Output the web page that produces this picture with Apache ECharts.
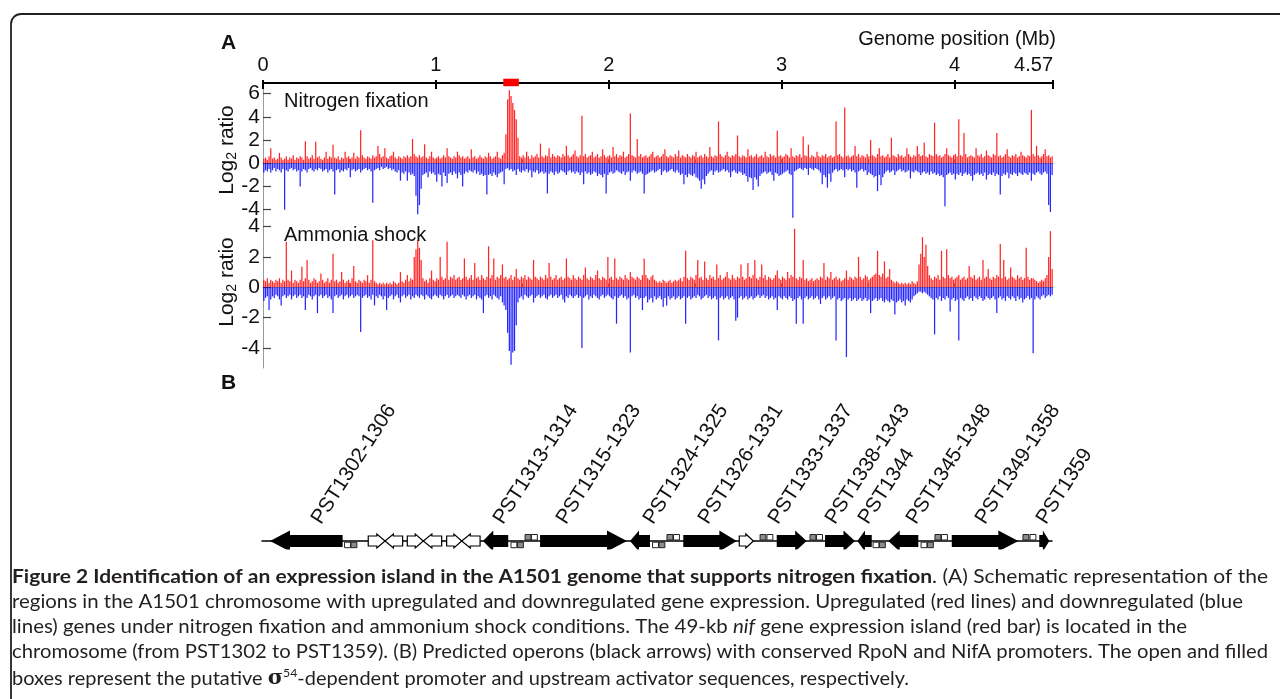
<!DOCTYPE html>
<html><head><meta charset="utf-8">
<script src="https://cdn.jsdelivr.net/npm/echarts@6.0.0/dist/echarts.min.js"></script>
<style>html,body{margin:0;padding:0;background:#fff}#c{width:1280px;height:699px}</style>
</head><body><div id="c"></div><script>
// ---------- DATA ----------
const BIN = 0.01; // Mb per bin
const genomeTicks = [0, 1, 2, 3, 4, 4.57];
const halfTicks = [0.5, 1, 1.5, 2, 2.5, 3, 3.5, 4, 4.5];
const nfTicks = [-4, -2, 0, 2, 4, 6];
const amTicks = [-4, -2, 0, 2, 4];
const island = [[1.39, 1.48]];

const nfUp = [
0.4,0.5,0.3,0.6,1.3,0.4,0.5,0.3,0.4,0.9,0.5,0.3,0.4,0.6,0.3,0.5,0.4,0.7,0.3,0.5,
0.4,0.6,0.5,0.3,1.9,0.6,0.4,0.5,0.7,0.4,1.85,0.5,0.6,0.4,0.3,0.5,1.0,0.4,0.6,0.5,
1.6,0.5,0.4,0.6,0.3,0.5,0.4,1.0,0.5,0.6,0.4,0.5,0.9,0.4,0.6,0.5,2.85,0.7,0.5,0.4,
0.6,0.5,0.4,0.7,0.5,0.6,1.5,0.8,0.5,0.6,1.3,0.5,0.4,0.6,0.7,1.0,0.5,0.4,0.6,0.5,
0.4,0.6,0.5,0.7,0.5,0.6,2.1,0.8,0.6,0.5,0.7,0.5,0.6,1.65,0.5,0.4,0.6,1.0,0.5,0.4,
0.5,0.6,0.4,0.5,0.7,0.5,1.3,0.6,0.5,0.4,0.6,0.5,1.0,0.7,0.5,0.6,0.4,0.5,0.6,0.4,
1.2,0.5,0.6,0.4,0.5,0.7,0.5,0.4,0.6,0.5,0.9,0.6,0.4,0.5,0.6,1.0,0.5,0.4,0.7,0.9,
2.5,5.5,6.3,5.8,5.2,4.6,3.8,2.2,0.6,0.5,0.7,0.5,1.0,0.6,0.4,0.7,0.5,0.6,0.8,0.5,
1.7,0.6,0.5,0.7,0.6,1.3,0.5,0.8,0.6,0.5,0.7,0.6,0.5,0.8,0.6,1.5,0.7,0.5,0.6,0.8,
1.1,0.6,0.5,0.7,4.1,0.6,0.8,0.5,0.6,0.7,1.0,0.5,0.6,0.8,0.5,0.6,1.2,0.7,0.5,0.6,
0.7,0.5,1.4,0.6,0.8,0.5,0.7,0.6,1.0,0.5,0.6,0.8,4.3,0.7,0.6,0.5,2.1,0.6,0.8,0.5,
0.6,0.7,0.5,0.6,0.8,1.0,0.5,0.6,0.7,0.5,0.6,0.8,1.2,0.6,0.5,0.7,0.6,0.5,0.8,0.6,
1.1,0.5,0.7,0.6,0.5,0.8,0.6,0.5,0.7,0.6,1.0,0.5,0.6,0.7,0.5,0.8,0.6,0.5,1.4,0.6,
0.5,0.7,0.6,3.6,0.8,0.6,0.5,0.7,1.0,0.6,0.5,0.7,0.6,0.8,2.4,0.6,0.5,0.7,0.6,0.5,
1.2,0.6,0.7,0.5,0.6,0.8,0.5,0.6,0.7,0.5,1.0,0.6,0.5,0.8,0.6,0.7,0.5,2.8,0.6,0.7,
0.5,0.6,0.8,0.7,0.5,1.3,0.6,0.5,0.7,0.6,0.8,0.5,2.3,0.7,0.6,1.6,0.5,0.7,0.6,0.5,
1.0,0.6,0.5,0.7,0.6,0.8,0.5,0.6,0.7,0.5,0.6,3.6,0.7,0.8,0.6,0.5,4.8,0.6,0.7,0.5,
0.6,0.7,1.5,0.6,0.8,0.5,0.7,0.6,0.5,0.8,0.6,2.0,0.7,0.6,0.5,0.8,1.3,0.6,0.7,0.5,
0.6,0.8,0.5,2.2,0.7,0.6,0.5,0.8,0.6,0.7,0.5,0.6,1.3,0.8,0.6,0.5,0.7,0.6,1.5,0.8,
0.6,0.7,1.8,0.6,0.5,0.8,0.7,0.6,3.5,0.8,0.6,0.7,0.5,0.6,0.8,1.3,0.7,0.6,0.5,0.7,
0.8,0.6,3.8,0.7,0.6,2.6,0.8,0.5,0.6,0.7,0.6,0.5,1.3,0.7,0.6,0.8,0.5,0.6,1.1,0.7,
0.6,0.5,0.8,0.7,2.6,0.6,0.7,0.5,0.6,0.8,1.2,0.6,0.5,0.7,0.6,0.8,0.5,0.6,1.0,0.7,
0.6,0.5,0.7,0.6,4.6,0.8,0.6,1.5,0.7,0.5,0.6,0.8,1.2,0.6,0.7,0.5,0.6];

const nfDown = [
-0.8,-0.6,-0.7,-0.5,-0.8,-0.6,-0.4,-0.7,-0.5,-0.6,-0.8,-0.5,-4.0,-0.6,-0.7,-0.5,-0.4,-0.6,-0.5,-0.7,
-0.6,-2.0,-0.7,-0.5,-0.6,-0.8,-0.5,-0.4,-0.6,-0.7,-0.5,-0.6,-0.4,-0.5,-0.7,-0.6,-0.5,-0.8,-0.6,-0.5,
-0.7,-2.7,-0.6,-0.5,-0.8,-0.6,-0.7,-0.5,-0.6,-0.4,-1.2,-0.6,-0.5,-0.7,-0.6,-0.5,-0.8,-0.6,-0.5,-0.4,
-0.6,-0.5,-0.7,-3.4,-0.6,-0.5,-0.4,-0.6,-0.3,-0.5,-0.4,-0.3,-0.5,-0.4,-0.6,-0.5,-0.7,-0.8,-0.6,-1.5,
-0.8,-0.9,-0.7,-1.5,-0.8,-1.0,-0.9,-1.1,-2.8,-4.4,-3.6,-2.2,-1.0,-0.9,-0.8,-1.2,-0.7,-0.9,-0.8,-1.0,
-1.6,-0.9,-1.0,-2.0,-0.8,-1.1,-1.7,-0.9,-0.8,-1.0,-0.7,-0.9,-1.3,-0.8,-1.0,-2.0,-0.9,-0.7,-0.8,-0.6,
-0.7,-0.8,-0.6,-0.9,-0.7,-1.0,-0.9,-1.1,-1.0,-2.7,-1.0,-0.9,-1.1,-0.8,-1.0,-1.2,-0.9,-0.8,-0.7,-1.8,
-0.5,-0.4,-0.6,-0.5,-0.7,-0.6,-1.0,-0.5,-0.7,-0.8,-0.6,-0.7,-0.5,-0.8,-0.6,-1.2,-0.7,-0.8,-0.6,-0.9,
-0.8,-0.7,-0.9,-0.8,-2.6,-0.9,-0.7,-0.8,-1.0,-0.7,-0.9,-0.8,-0.6,-0.7,-0.8,-1.0,-0.7,-0.6,-0.8,-0.7,
-0.9,-0.7,-0.8,-1.0,-0.8,-1.8,-0.7,-0.9,-0.8,-1.0,-0.9,-0.7,-0.8,-1.1,-0.9,-1.0,-1.2,-0.9,-2.6,-1.0,
-0.8,-0.7,-0.9,-0.8,-0.6,-0.7,-0.8,-0.9,-0.7,-1.0,-0.8,-0.7,-1.5,-0.8,-0.6,-0.7,-0.9,-0.8,-0.7,-0.9,
-2.6,-1.0,-0.9,-0.8,-0.7,-0.6,-0.8,-0.7,-0.6,-0.5,-1.0,-0.7,-0.6,-0.8,-0.7,-0.6,-0.5,-0.7,-0.8,-0.6,
-0.8,-1.0,-0.9,-1.8,-1.0,-1.2,-0.9,-1.0,-1.1,-0.9,-1.2,-1.3,-1.5,-2.2,-1.4,-1.8,-1.1,-0.9,-0.7,-0.6,
-1.0,-0.7,-0.6,-0.8,-0.7,-0.6,-0.5,-0.7,-0.6,-0.8,-1.2,-0.7,-0.6,-0.8,-0.9,-0.7,-0.8,-1.0,-0.9,-1.1,
-1.6,-1.2,-1.3,-2.3,-1.2,-1.4,-2.0,-1.1,-0.9,-0.8,-0.7,-0.9,-0.8,-0.7,-1.0,-1.5,-0.8,-0.9,-1.1,-1.0,
-0.9,-0.8,-0.7,-0.6,-0.9,-1.0,-4.7,-0.7,-0.6,-0.5,-0.4,-0.5,-0.6,-0.4,-0.5,-1.0,-0.4,-0.5,-0.6,-0.4,
-0.5,-0.6,-0.8,-1.8,-1.0,-1.2,-2.1,-0.9,-1.6,-0.8,-0.6,-0.5,-0.7,-0.6,-0.5,-0.6,-1.2,-0.5,-0.6,-0.5,
-0.7,-0.6,-0.8,-2.1,-0.7,-0.6,-0.5,-0.7,-0.6,-1.0,-0.8,-0.9,-1.0,-1.2,-1.1,-2.4,-1.0,-1.9,-1.2,-0.9,
-0.7,-0.6,-0.8,-0.7,-0.6,-1.0,-0.7,-0.6,-0.5,-0.7,-0.6,-0.8,-0.7,-0.6,-1.3,-0.7,-0.8,-0.6,-0.7,-0.8,
-1.0,-0.8,-0.7,-0.9,-0.8,-1.0,-0.7,-0.9,-0.8,-1.0,-0.9,-1.1,-1.0,-1.2,-3.7,-1.0,-0.9,-0.8,-1.0,-0.9,
-1.4,-0.9,-1.0,-0.8,-1.1,-0.9,-0.8,-1.0,-0.9,-1.1,-1.5,-1.0,-0.9,-0.8,-1.0,-0.9,-1.1,-0.8,-1.4,-1.0,
-0.9,-1.0,-0.8,-1.1,-0.9,-1.0,-2.7,-1.1,-0.9,-1.0,-0.8,-1.3,-0.9,-1.0,-0.8,-0.9,-1.1,-0.8,-0.9,-1.0,
-0.8,-0.9,-1.0,-0.8,-1.5,-0.9,-1.0,-0.8,-0.7,-0.9,-1.0,-0.8,-0.7,-0.9,-3.6,-4.2,-1.0];

const amUp = [
0.5,0.4,0.6,0.3,0.5,0.4,0.3,0.5,0.4,0.6,0.3,0.5,0.4,3.0,0.5,0.4,1.1,0.3,0.5,0.4,
0.3,0.5,1.35,0.4,0.6,1.8,0.5,0.3,0.4,0.6,0.5,0.3,0.4,0.9,0.5,0.3,0.4,0.6,0.3,0.5,
2.2,0.4,0.5,0.3,0.4,1.0,0.5,0.3,0.4,0.5,0.3,0.6,1.4,0.4,0.3,0.5,0.4,0.3,0.5,0.4,
0.8,0.3,0.5,3.1,0.4,0.3,0.2,0.3,0.2,0.3,0.2,0.3,0.2,0.3,0.2,0.4,0.3,0.2,0.3,1.0,
0.4,0.3,0.5,0.8,0.4,0.6,0.5,2.0,2.5,3.1,2.6,1.8,0.6,0.4,0.5,0.3,0.6,1.1,0.5,0.4,
0.6,0.5,2.0,0.7,0.5,0.6,3.0,0.5,0.7,0.6,0.8,0.5,0.6,0.7,0.5,0.6,1.9,0.7,0.5,0.6,
0.8,0.5,1.6,0.6,0.7,0.5,0.8,0.6,0.5,0.7,2.7,0.6,0.8,1.9,0.5,0.7,0.6,0.8,1.5,0.6,
0.7,0.5,0.6,0.8,0.5,0.7,1.2,0.6,0.5,0.7,0.6,0.8,0.5,0.7,0.6,0.5,1.8,0.7,0.6,0.5,
0.7,0.6,0.5,0.8,0.6,1.6,0.7,0.5,0.6,0.8,0.5,0.6,0.7,0.5,0.6,1.9,0.7,0.6,0.5,0.8,
0.6,0.5,0.7,0.6,0.5,0.8,1.3,0.6,0.5,0.7,0.6,0.5,0.8,1.1,0.6,0.5,0.7,0.6,0.5,2.0,
0.6,0.7,0.5,1.9,0.6,0.5,0.7,0.6,0.5,0.8,0.6,0.5,1.0,0.7,0.6,0.5,0.7,0.6,0.5,0.8,
1.9,0.8,0.6,0.5,0.7,0.8,0.5,0.4,0.3,0.4,0.3,0.5,0.4,0.3,0.4,0.5,0.3,0.4,0.5,0.4,
0.5,0.6,0.4,0.7,2.4,0.6,0.5,0.7,0.6,0.5,0.8,1.8,0.6,0.7,0.5,1.7,0.6,0.5,0.8,0.6,
0.7,0.5,1.5,0.6,0.8,0.5,0.6,0.7,1.0,0.6,0.5,0.8,0.6,0.5,0.7,0.6,1.5,0.7,0.5,0.6,
1.6,0.7,0.6,0.8,1.8,0.6,0.5,0.7,1.5,0.6,0.8,0.5,0.7,0.6,0.5,0.6,0.8,1.1,0.6,0.5,
0.7,0.6,0.5,1.0,0.6,0.8,0.7,3.85,0.6,0.5,0.7,0.6,1.8,0.5,0.6,0.4,0.5,0.6,0.4,0.5,
0.6,0.5,0.7,0.6,1.6,0.5,0.7,0.6,1.0,0.5,0.6,0.7,0.5,0.6,0.4,0.5,0.6,1.1,0.5,0.7,
0.6,0.5,0.7,0.6,2.0,0.7,0.5,0.6,0.8,0.7,0.5,0.6,0.7,0.8,0.9,2.4,0.8,0.7,0.9,1.7,
0.6,0.7,1.2,0.5,0.4,0.3,0.4,0.3,0.2,0.3,0.2,0.3,0.2,0.3,0.2,0.4,0.3,0.2,0.4,1.5,
2.2,3.3,2.0,2.8,1.4,0.8,0.6,0.5,0.7,0.6,0.8,0.5,2.4,0.7,0.6,2.5,0.8,0.6,0.7,0.5,
0.6,0.7,0.8,0.5,0.6,0.7,0.5,0.6,1.4,0.7,0.6,0.8,0.5,0.6,0.7,0.5,1.8,0.6,0.7,1.2,
0.6,0.5,0.7,0.6,0.8,0.7,2.85,0.6,1.8,0.7,0.5,0.6,1.3,0.7,0.6,0.5,0.8,0.6,0.7,0.5,
0.6,2.6,0.7,0.5,0.6,0.6,0.5,0.4,0.3,0.4,0.5,0.4,0.6,0.8,2.0,3.7,1.2];

const amDown = [
-0.9,-0.7,-0.6,-1.5,-0.8,-0.6,-0.7,-0.5,-0.6,-0.8,-1.2,-0.6,-0.5,-0.7,-0.6,-0.5,-0.8,-0.6,-0.5,-0.7,
-0.6,-0.5,-0.7,-0.6,-1.5,-0.7,-0.5,-0.6,-0.8,-0.6,-0.5,-1.7,-0.6,-0.5,-0.7,-0.6,-0.5,-0.7,-0.6,-0.8,
-1.7,-0.6,-0.5,-0.7,-0.6,-0.5,-0.8,-0.6,-0.5,-0.7,-0.6,-0.5,-0.7,-0.6,-0.5,-0.6,-2.95,-0.7,-0.6,-0.5,
-0.7,-0.6,-0.8,-0.5,-1.2,-0.6,-0.7,-0.5,-0.6,-0.8,-0.6,-1.5,-0.7,-0.6,-0.5,-0.8,-0.6,-0.5,-0.7,-1.0,
-0.6,-0.5,-0.7,-0.6,-0.5,-0.8,-0.6,-0.7,-0.5,-0.6,-0.7,-0.5,-0.6,-0.8,-0.5,-0.6,-0.7,-0.8,-0.6,-0.5,
-0.6,-0.7,-0.5,-0.6,-0.8,-0.6,-0.5,-0.7,-0.6,-0.5,-0.7,-0.6,-0.5,-0.6,-0.7,-0.5,-0.6,-0.8,-0.6,-0.5,
-0.7,-0.6,-0.5,-0.8,-0.6,-0.7,-0.8,-1.7,-0.6,-0.5,-0.7,-0.6,-0.8,-0.5,-0.6,-0.7,-0.8,-0.6,-1.0,-1.2,
-1.5,-3.0,-4.2,-5.1,-4.3,-4.2,-2.5,-1.0,-0.7,-0.6,-0.8,-0.5,-0.6,-0.7,-0.6,-0.5,-1.0,-0.7,-0.6,-0.5,
-0.7,-0.6,-0.5,-0.7,-0.8,-0.6,-0.5,-0.7,-0.6,-0.5,-0.7,-0.6,-0.5,-0.8,-1.0,-0.6,-0.7,-0.5,-0.6,-0.7,
-0.6,-0.5,-0.7,-0.6,-4.0,-0.7,-0.6,-0.5,-0.8,-0.6,-0.7,-0.5,-0.6,-0.7,-0.8,-0.6,-0.5,-0.7,-0.6,-0.5,
-0.6,-0.7,-0.8,-0.6,-2.4,-0.7,-0.6,-0.5,-0.7,-0.6,-0.8,-0.7,-4.3,-0.6,-0.5,-0.7,-0.6,-0.8,-0.7,-1.5,
-0.7,-0.6,-1.0,-0.8,-0.7,-1.0,-0.6,-0.8,-0.7,-0.6,-0.8,-1.3,-0.7,-1.2,-0.6,-0.8,-0.7,-0.6,-0.8,-0.7,
-0.6,-0.8,-0.7,-0.6,-2.4,-0.7,-0.6,-0.8,-0.7,-0.6,-0.7,-0.5,-0.6,-0.8,-0.7,-0.6,-0.5,-0.7,-0.6,-0.8,
-0.7,-0.6,-0.8,-3.5,-0.7,-0.6,-0.8,-0.7,-0.6,-0.8,-0.7,-0.6,-0.8,-2.2,-2.0,-0.7,-0.6,-0.8,-0.7,-0.6,
-0.8,-0.7,-0.6,-0.8,-0.7,-0.6,-0.5,-0.7,-0.6,-0.5,-0.7,-0.6,-0.8,-0.7,-0.6,-0.8,-0.7,-1.5,-0.6,-0.7,
-0.8,-0.6,-0.7,-0.8,-0.6,-0.7,-0.9,-0.8,-2.4,-0.7,-0.6,-0.8,-2.4,-0.7,-0.6,-0.8,-0.7,-0.6,-0.8,-0.7,
-0.6,-0.8,-1.1,-0.7,-0.6,-0.8,-0.7,-0.6,-0.8,-0.7,-0.6,-3.5,-0.8,-0.7,-0.9,-0.8,-0.7,-4.6,-0.8,-0.7,
-0.9,-0.8,-0.7,-0.9,-0.8,-0.7,-0.9,-0.8,-0.7,-0.9,-0.8,-1.7,-0.9,-0.8,-0.7,-0.9,-0.8,-0.7,-0.9,-1.0,
-0.8,-0.9,-1.0,-0.8,-0.9,-1.8,-1.0,-0.9,-0.8,-1.0,-0.9,-1.2,-0.8,-0.9,-1.0,-0.8,-0.6,-0.5,-0.4,-0.3,
-0.3,-0.4,-0.3,-0.4,-0.5,-0.6,-0.7,-0.8,-3.1,-0.7,-0.8,-0.6,-0.9,-0.7,-0.8,-0.6,-0.7,-1.6,-0.8,-0.7,
-0.9,-0.8,-3.5,-0.7,-0.8,-0.9,-0.7,-0.6,-0.8,-0.7,-0.9,-0.6,-0.7,-0.8,-0.6,-0.7,-0.9,-0.8,-0.6,-0.7,
-0.8,-0.7,-0.6,-0.8,-1.7,-0.7,-0.6,-0.8,-0.7,-0.9,-0.6,-0.7,-0.8,-0.6,-0.7,-0.9,-0.6,-0.8,-0.7,-1.0,
-0.8,-0.7,-0.6,-0.8,-0.7,-4.35,-0.8,-0.6,-0.7,-0.8,-0.6,-0.5,-0.7,-0.6,-0.5,-0.6,-0.5];

// Panel B: nif island, positions in kb
const trackLength = 49.375;
// [start kb, end kb, direction (1 right / -1 left), filled (1 black / 0 open)]
const genes = [
[0.5,5.04,-1,1],[6.64,7.69,1,0],[7.69,8.79,-1,0],[9.08,10.08,1,0],[10.08,11.23,-1,0],
[11.54,12.48,1,0],[12.48,13.63,-1,0],[13.81,15.39,-1,1],[17.38,22.81,1,1],[23.0,24.25,-1,1],
[26.33,29.67,1,1],[29.83,30.71,1,0],[32.17,34.04,1,1],[35.19,37.06,1,1],[37.21,38.11,-1,1],
[39.14,41.02,-1,1],[43.11,47.27,1,1],[48.58,49.21,1,1]];
// promoter boxes: [start kb, side (1 above / -1 below), filled (1 UAS / 0 promoter)]
const boxes = [
[5.16,-1,0],[5.56,-1,1],[15.56,-1,0],[15.97,-1,1],[16.44,1,1],[16.84,1,0],
[24.41,-1,0],[24.81,-1,1],[25.31,1,1],[25.72,1,0],[31.13,1,1],[31.56,1,0],
[34.25,1,1],[34.66,1,0],[38.19,-1,0],[38.59,-1,1],[41.19,-1,0],[41.59,-1,1],
[42.06,1,1],[42.47,1,0],[47.56,1,1],[48.0,1,0]];
const BOXW = 0.4;
const operonNames = ['PST1302-1306','PST1313-1314','PST1315-1323','PST1324-1325','PST1326-1331',
'PST1333-1337','PST1338-1343','PST1344','PST1345-1348','PST1349-1358','PST1359'];
const operonLabelKb = [3.94,15.31,19.25,24.69,28.13,32.5,36.06,38.13,41.13,45.44,49.25];

// ---------- CHART ----------
const FONT = '"Liberation Sans", Arial, Helvetica, sans-serif';
const CAP = 'Lato, "Open Sans", sans-serif';
const chart = echarts.init(document.getElementById('c'), null, {renderer: 'canvas'});

const toPts = arr => arr.map((v, i) => [(i + 0.5) * BIN, v]);

function barRender(color, op) {
  return function (params, api) {
    const x = api.value(0), v = api.value(1);
    const a = api.coord([x, 0]), b = api.coord([x, v]);
    const w = api.size([BIN, 0])[0] * 0.72;
    return {type: 'rect', shape: {x: a[0] - w / 2, y: Math.min(a[1], b[1]), width: w, height: Math.abs(b[1] - a[1])},
      style: {fill: color, opacity: op}};
  };
}
function islandRender(params, api) {
  const a = api.coord([api.value(0), 0.5]), b = api.coord([api.value(1), 0.5]);
  return {type: 'rect', shape: {x: a[0], y: a[1] - 3.8, width: b[0] - a[0], height: 7.5}, style: {fill: '#f00'}};
}
function geneRender(params, api) {
  const s = api.value(0), e = api.value(1), dir = api.value(2), filled = api.value(3);
  const a = api.coord([s, 0]), b = api.coord([e, 0]);
  const y = a[1], len = b[0] - a[0];
  const head = Math.min(20, 4 + len * 0.25);
  const bh = filled ? 6 : 5, hh = filled ? 10.5 : 7;
  let pts;
  if (dir > 0) {
    const xh = b[0] - head;
    pts = [[a[0], y - bh], [xh, y - bh], [xh, y - hh], [b[0], y], [xh, y + hh], [xh, y + bh], [a[0], y + bh]];
  } else {
    const xh = a[0] + head;
    pts = [[b[0], y - bh], [xh, y - bh], [xh, y - hh], [a[0], y], [xh, y + hh], [xh, y + bh], [b[0], y + bh]];
  }
  return {type: 'polygon', shape: {points: pts},
    style: {fill: filled ? '#000' : '#fff', stroke: '#000', lineWidth: filled ? 0 : 1.2}};
}
function boxRender(params, api) {
  const s = api.value(0), side = api.value(1), f = api.value(2);
  const p = api.coord([s, 0]), q = api.coord([s + BOXW, 0]);
  const h = 5.5;
  const y = side > 0 ? p[1] - h - 1 : p[1] + 1.2;
  return {type: 'rect', shape: {x: p[0], y: y, width: q[0] - p[0] - 0.5, height: h},
    style: {fill: f ? '#8c8c8c' : '#fff', stroke: '#222', lineWidth: 1}};
}
function labelRender(params, api) {
  const p = api.coord([api.value(0), 0]);
  return {type: 'text', x: p[0], y: p[1] - 13, rotation: 57 * Math.PI / 180,
    style: {text: operonNames[params.dataIndex], font: '20.5px ' + FONT, fill: '#111', align: 'left', verticalAlign: 'bottom'}};
}

// caption: one text per printed line, each stretched to the line length of the original
const capLines = [
  '{b|Figure 2 Identification of an expression island in the A1501 genome that supports nitrogen fixation}{n|. (A) Schematic representation of the}',
  '{n|regions in the A1501 chromosome with upregulated and downregulated gene expression. Upregulated (red lines) and downregulated (blue}',
  '{n|lines) genes under nitrogen fixation and ammonium shock conditions. The 49-kb }{i|nif}{n| gene expression island (red bar) is located in the}',
  '{n|chromosome (from PST1302 to PST1359). (B) Predicted operons (black arrows) with conserved RpoN and NifA promoters. The open and filled}',
  '{n|boxes represent the putative }{s|σ}{sup|54}{n|-dependent promoter and upstream activator sequences, respectively.}'
];
const capLineWidths = [1256, 1231, 1175, 1256, 897];
const capFs = 19.5;
const capRich = {
  n: {font: capFs + 'px ' + CAP, fill: '#231f20'},
  b: {font: 'bold ' + capFs + 'px ' + CAP, fill: '#231f20'},
  i: {font: 'italic ' + capFs + 'px ' + CAP, fill: '#231f20'},
  s: {font: 'bold ' + (capFs + 1) + 'px "DejaVu Serif", serif', fill: '#231f20'},
  sup: {font: Math.round(capFs * 0.62) + 'px ' + CAP, fill: '#231f20', padding: [0, 0, 12, 0]}
};
const meas = document.createElement('canvas').getContext('2d');
function measureRich(t) {
  let w = 0, m;
  const re = /\{(\w+)\|([^}]*)\}/g;
  while ((m = re.exec(t))) { meas.font = capRich[m[1]].font; w += meas.measureText(m[2]).width; }
  return w;
}
const capGraphics = capLines.map((t, k) => ({
  type: 'text', x: 12, y: 567 + k * 25, z: 10,
  scaleX: capLineWidths[k] / measureRich(t), originX: 0, originY: 0,
  style: {text: t, rich: capRich, verticalAlign: 'top'}
}));

const logName = (cy) => ({
  type: 'text', x: 227, y: cy, rotation: Math.PI / 2, z: 10,
  style: {text: '{a|Log}{s|2}{a| ratio}', align: 'center', verticalAlign: 'middle',
    rich: {a: {font: '21px ' + FONT, fill: '#111'}, s: {font: '14px ' + FONT, fill: '#111', padding: [11, 0, 0, 0]}}}
});

const greyAxis = (gi) => ({
  gridIndex: gi, type: 'value', min: 0, max: 4.57, position: 'bottom',
  axisLine: {show: true, lineStyle: {color: '#9a9a9a', width: 1}},
  axisTick: {show: true, inside: true, length: 4, customValues: halfTicks, lineStyle: {color: '#8a8a8a'}},
  axisLabel: {show: false}, splitLine: {show: false}
});
const ratioAxis = (gi, mn, mx, ticks) => ({
  gridIndex: gi, type: 'value', min: mn, max: mx,
  axisLine: {show: true, onZero: false, lineStyle: {color: '#9a9a9a', width: 1}},
  axisTick: {show: true, inside: true, length: 8, customValues: ticks, lineStyle: {color: '#444', width: 1.2}},
  axisLabel: {show: true, customValues: ticks, margin: 3, hideOverlap: false,
    formatter: v => '{t|' + v + '}', rich: {t: {fontSize: 21, fontFamily: FONT, color: '#111'}}},
  splitLine: {show: false}
});

const option = {
  animation: false,
  backgroundColor: '#fff',
  grid: [
    {left: 263, right: 227, top: 82, height: 1},
    {left: 263, right: 227, top: 83, height: 139},
    {left: 263, right: 227, top: 222, height: 146},
    {left: 262, right: 228, top: 531, height: 20}
  ],
  xAxis: [
    {gridIndex: 0, type: 'value', position: 'top', min: 0, max: 4.57,
      axisLine: {show: true, lineStyle: {color: '#000', width: 2}},
      axisTick: {show: true, length: 3, customValues: genomeTicks, lineStyle: {color: '#000', width: 2}},
      axisLabel: {show: true, customValues: genomeTicks, margin: 7, fontSize: 20, fontFamily: FONT, color: '#111',
        alignMaxLabel: 'right', formatter: v => String(v)},
      splitLine: {show: false}},
    {gridIndex: 0, type: 'value', position: 'bottom', min: 0, max: 4.57,
      axisLine: {show: false},
      axisTick: {show: true, length: 6, customValues: genomeTicks, lineStyle: {color: '#000', width: 2}},
      axisLabel: {show: false}, splitLine: {show: false}},
    greyAxis(1), greyAxis(2),
    {gridIndex: 3, type: 'value', min: 0, max: trackLength,
      axisLine: {show: true, onZero: true, lineStyle: {color: '#000', width: 1.5}},
      axisTick: {show: false}, axisLabel: {show: false}, splitLine: {show: false}}
  ],
  yAxis: [
    {gridIndex: 0, type: 'value', min: 0, max: 1, show: false},
    ratioAxis(1, -5.06, 6.92, nfTicks),
    ratioAxis(2, -5.32, 4.30, amTicks),
    {gridIndex: 3, type: 'value', min: -1, max: 1, show: false}
  ],
  series: [
    {type: 'custom', xAxisIndex: 0, yAxisIndex: 0, data: island, renderItem: islandRender, z: 5},
    {type: 'custom', xAxisIndex: 2, yAxisIndex: 1, data: toPts(nfUp), renderItem: barRender('#ff0000', 0.85)},
    {type: 'custom', xAxisIndex: 2, yAxisIndex: 1, data: toPts(nfDown), renderItem: barRender('#0000ff', 0.85)},
    {type: 'custom', xAxisIndex: 3, yAxisIndex: 2, data: toPts(amUp), renderItem: barRender('#ff0000', 0.85)},
    {type: 'custom', xAxisIndex: 3, yAxisIndex: 2, data: toPts(amDown), renderItem: barRender('#0000ff', 0.85)},
    {type: 'custom', xAxisIndex: 4, yAxisIndex: 3, data: genes, renderItem: geneRender, z: 3},
    {type: 'custom', xAxisIndex: 4, yAxisIndex: 3, data: boxes, renderItem: boxRender, z: 4},
    {type: 'custom', xAxisIndex: 4, yAxisIndex: 3, data: operonLabelKb.map(v => [v, 0]), renderItem: labelRender, z: 4}
  ],
  graphic: [
    {type: 'rect', shape: {x: 11, y: 14, width: 1320, height: 760, r: 10}, style: {fill: 'none', stroke: '#222', lineWidth: 1.8}, z: 1},
    {type: 'rect', shape: {x: 250, y: 549.5, width: 820, height: 8}, style: {fill: '#fff'}, z: 100},
    {type: 'text', x: 221, y: 43, style: {text: 'A', font: 'bold 21px ' + FONT, fill: '#111', verticalAlign: 'middle'}},
    {type: 'text', x: 221, y: 383, style: {text: 'B', font: 'bold 21px ' + FONT, fill: '#111', verticalAlign: 'middle'}},
    {type: 'text', x: 1056, y: 39, style: {text: 'Genome position (Mb)', font: '20px ' + FONT, fill: '#111', align: 'right', verticalAlign: 'middle'}},
    {type: 'text', x: 284, y: 101, style: {text: 'Nitrogen fixation', font: '20px ' + FONT, fill: '#111', verticalAlign: 'middle'}, z: 10},
    {type: 'text', x: 284, y: 235, style: {text: 'Ammonia shock', font: '20px ' + FONT, fill: '#111', verticalAlign: 'middle'}, z: 10},
    logName(150), logName(282)
  ].concat(capGraphics)
};
chart.setOption(option);
</script></body></html>
